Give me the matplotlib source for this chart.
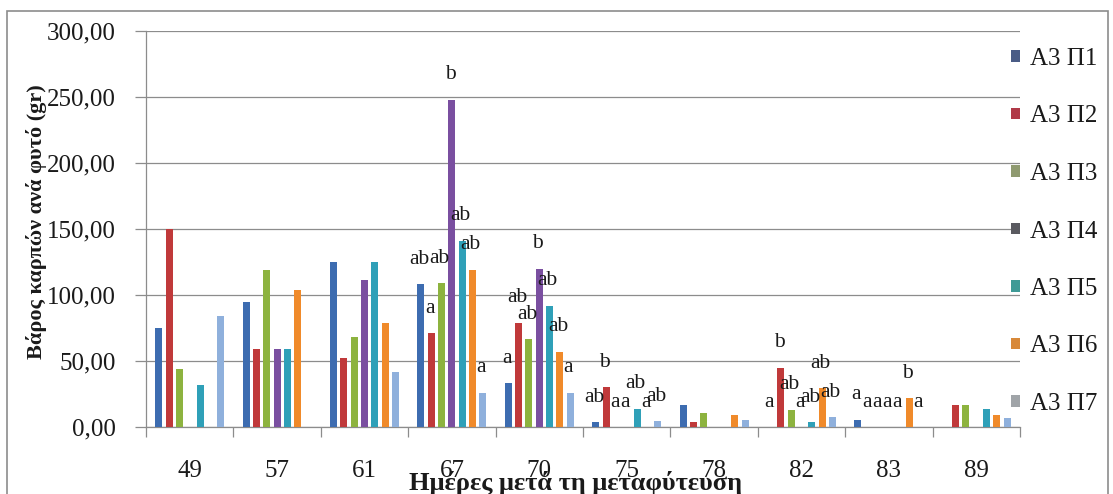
import matplotlib
matplotlib.use('Agg')
import matplotlib.pyplot as plt
from matplotlib.patches import Patch, Rectangle
from matplotlib.ticker import FixedLocator, FuncFormatter
import numpy as np

# Data
days = ['49', '57', '61', '67', '70', '75', '78', '82', '83', '89']
series = ['Α3 Π1', 'Α3 Π2', 'Α3 Π3', 'Α3 Π4', 'Α3 Π5', 'Α3 Π6', 'Α3 Π7']
p1 = [75, 95, 125, 108, 33, 3.5, 17, 0, 5.5, 0]
p2 = [150, 59, 52, 71, 79, 30, 3.5, 45, 0, 17]
p3 = [44, 119, 68.5, 109, 66.5, 0, 10.5, 13, 0, 17]
p4 = [0, 59, 111, 248, 120, 0, 0, 0, 0, 0]
p5 = [32, 59, 125, 141, 92, 14, 0, 3.5, 0, 13.5]
p6 = [0, 104, 79, 119, 57, 0, 9, 29.5, 22, 9]
p7 = [84, 0, 41.5, 26, 26, 4.5, 5, 7.5, 0, 6.5]

# significance letters
lab1 = ['', '', '', 'ab', 'a', 'ab', '', 'a', 'a', '']
lab2 = ['', '', '', 'a', 'ab', 'b', '', 'b', 'a', '']
lab3 = ['', '', '', 'ab', 'ab', 'a', '', 'ab', 'a', '']
lab4 = ['', '', '', 'b', 'b', 'a', '', 'a', 'a', '']
lab5 = ['', '', '', 'ab', 'ab', 'ab', '', 'ab', 'a', '']
lab6 = ['', '', '', 'ab', 'ab', 'a', '', 'ab', 'b', '']
lab7 = ['', '', '', 'a', 'a', 'ab', '', 'ab', 'a', '']

values = [p1, p2, p3, p4, p5, p6, p7]
labels = [lab1, lab2, lab3, lab4, lab5, lab6, lab7]

bar_colors = ['#3d6cb0', '#c0393a', '#8db33f', '#7a4fa0', '#2fa0b8', '#f08a2a', '#8fb0dc']
leg_colors = ['#4a5c86', '#b03a48', '#8f9a70', '#5a5a60', '#3f9a96', '#d8893a', '#a0a4a8']

plt.rcParams.update({'font.family': ['Liberation Serif', 'DejaVu Serif'],
                     'text.color': '#1a1a1a',
                     'xtick.color': '#8c8c8c',
                     'ytick.color': '#8c8c8c',
                     'xtick.labelcolor': '#1a1a1a',
                     'ytick.labelcolor': '#1a1a1a'})

W, H = 1113, 494
fig = plt.figure(figsize=(W / 100, H / 100), dpi=100)
ax = fig.add_axes([146 / W, 1 - 427 / H, (1020 - 146) / W, (427 - 31) / H])

x = np.arange(len(days))
step = 0.118
width = 0.08
for i, (vals, labs) in enumerate(zip(values, labels)):
    xi = x + (i - 3) * step
    ax.bar(xi, vals, width=width, color=bar_colors[i], zorder=3)
    for xx, v, t in zip(xi, vals, labs):
        if t:
            ax.text(xx - 0.02, v + 15.5, t, ha='center', va='baseline',
                    fontsize=15.5, zorder=5)

ax.set_xlim(-0.5, len(days) - 0.5)
ax.set_ylim(0, 300)
ax.yaxis.set_major_locator(FixedLocator(np.arange(0, 301, 50)))
ax.yaxis.set_major_formatter(FuncFormatter(lambda v, p: ('%.2f' % v).replace('.', ',')))
ax.grid(axis='y', color='#8c8c8c', linewidth=0.9, zorder=0)
ax.set_axisbelow(True)

ax.set_xticks(x)
ax.set_xticklabels(days)
ax.set_xticks(np.arange(-0.5, len(days)), minor=True)
ax.tick_params(axis='x', which='major', length=0, pad=24, labelsize=18)
ax.tick_params(axis='x', which='minor', length=7, width=0.9, direction='out')
ax.tick_params(axis='y', which='major', length=8, width=0.9, direction='out',
               pad=14, labelsize=18)

for s in ['top', 'right']:
    ax.spines[s].set_visible(False)
for s in ['left', 'bottom']:
    ax.spines[s].set_color('#8c8c8c')
    ax.spines[s].set_linewidth(0.9)

fig.text(37 / W, 1 - 222 / H, 'Βάρος καρπών ανά φυτό (gr)', rotation=90,
         ha='center', va='center', fontsize=16, fontweight='bold')
fig.text(576 / W, 1 - 490 / H, 'Ημέρες μετά τη μεταφύτευση',
         ha='center', va='baseline', fontsize=19, fontweight='bold')

handles = [Patch(facecolor=c, edgecolor='none') for c in leg_colors]
fig.legend(handles, series, loc='upper left',
           bbox_to_anchor=(1011 / W, 1 - 48 / H), frameon=False,
           fontsize=18, borderpad=0, borderaxespad=0,
           handlelength=0.35, handleheight=0.35, handletextpad=0.4,
           labelspacing=1.42)

# chart border
fig.patches.append(Rectangle((7 / W, -0.05), (1108 - 7) / W, 1.05 - 11 / H,
                             transform=fig.transFigure, fill=False,
                             edgecolor='#8c8c8c', linewidth=1.2))

fig.savefig('out.png', dpi=100)
